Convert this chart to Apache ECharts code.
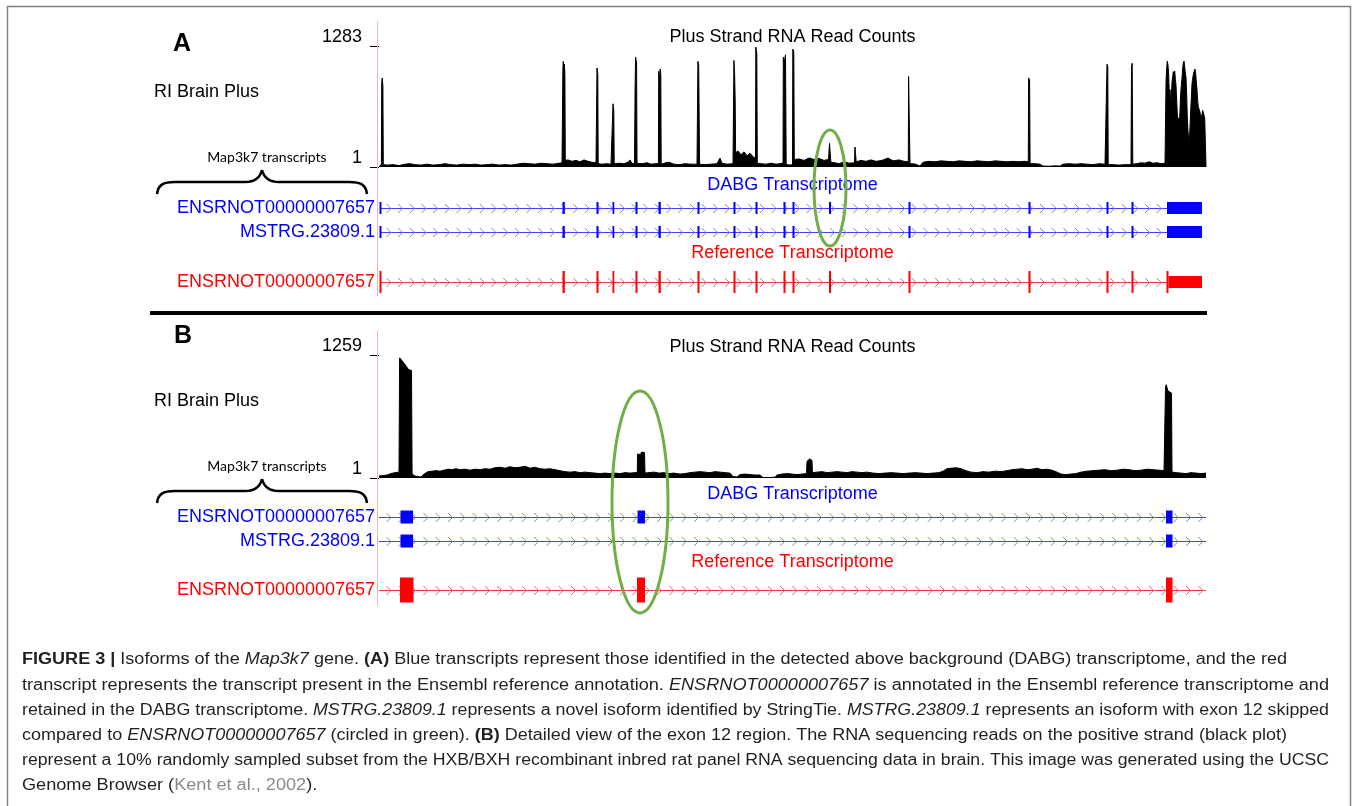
<!DOCTYPE html>
<html>
<head>
<meta charset="utf-8">
<title>Map3k7 isoforms</title>
<script src="https://cdn.jsdelivr.net/npm/echarts@6.0.0/dist/echarts.min.js"></script>
<style>
  html, body { margin: 0; padding: 0; background: #fff; }
  #fig { width: 1354px; height: 806px; }
</style>
</head>
<body>
<div id="fig"></div>
<script>
const FONT = '"Liberation Sans", Arial, Helvetica, sans-serif';

// read counts, position is offset inside the browser window (0..827)
const trackMaxA = 1283;
const trackMaxB = 1259;

const covA = [
  [0,0],[0.5,20],[2.4,30],[2.7,880],[3.2,943],[3.9,860],[4.3,25],
  [8,20],[14,25],[20,15],[26,30],[31,35],[36,25],[42,20],[48,30],[54,20],[60,25],[66,35],[72,25],[78,20],
  [84,30],[90,25],[96,30],[102,20],[108,25],[114,30],[120,20],[126,25],[132,20],[138,30],[144,40],[150,35],
  [156,30],[162,40],[168,35],[174,30],[180,40],[183,45],
  [183.6,50],[183.9,1050],[184.3,1120],[185,1000],[185.4,1090],[185.9,980],[186.3,70],
  [189,75],[193,60],[197,70],[201,55],[205,75],[209,60],[213,50],[217,45],
  [217.7,45],[218,1050],[218.8,980],[219.2,35],
  [223,30],[228,35],[232,30],
  [233.7,30],[234,670],[234.8,600],[235.2,35],
  [240,40],[245,35],[249,50],[251,75],[253,40],[255.5,35],
  [255.8,35],[256.1,850],[256.6,1165],[257.6,1100],[258,40],
  [263,35],[268,45],[272,30],[276,35],[279.4,35],
  [279.7,1015],[280.5,920],[281.2,1040],[281.8,980],[282.2,30],
  [287,45],[290,50],[295,30],[300,25],[306,35],[312,30],[318,30],
  [318.6,30],[318.9,1120],[319.7,1080],[320.2,1060],[320.6,30],
  [326,25],[332,30],[338,35],[341,95],[343,40],[348,30],[354,35],
  [354.6,40],[354.9,1130],[355.6,990],[356.2,700],[356.6,150],
  [359,170],[362,130],[365,160],[368,120],[371,145],[374,110],[376.5,90],
  [376.8,1272],[377.8,1200],[378.3,40],
  [382,35],[387,30],[392,40],[397,30],[401,35],[404,40],
  [404.3,1165],[405,1100],[406.5,1190],[407.2,30],
  [410,20],[413.5,25],
  [413.8,1250],[414.8,1220],[415.3,80],
  [420,85],[425,70],[430,95],[435,80],[440,90],[445,70],[449.5,80],
  [450.5,250],[451.5,255],[451.9,50],
  [456,45],[460,35],[465,55],[470,40],[475.5,45],
  [476,212],[476.8,200],[477.2,55],
  [482,70],[487,60],[492,75],[497,60],[503,70],[509,95],[514,65],[520,75],[525,60],[529.3,55],
  [529.6,960],[530.5,965],[531,35],
  [536,32],[541,10],[544,50],[550,60],[556,55],[562,65],[568,60],[574,55],[580,65],[586,60],[592,55],
  [598,65],[604,60],[610,55],[616,65],[622,60],[628,55],[634,60],[640,55],[646,60],[649.3,55],
  [649.6,945],[650.6,920],[651.1,35],
  [656,35],[661,30],[664,10],[670,8],[676,12],[681,10],[684,30],[690,35],[696,30],[702,35],[708,30],
  [714,25],[720,35],[726,30],[727.7,30],
  [728,1090],[728.8,1060],[729.2,25],
  [734,25],[740,20],[746,25],[752,25],
  [752.5,1060],[753.2,1100],[753.8,30],
  [758,35],[762,45],[766,40],[770,55],[774,40],[778,45],[782,35],[786,40],
  [786.5,40],[787,900],[787.7,1050],[788.3,1124],[789,1080],[789.7,980],[790.3,760],[791,820],[791.7,690],
  [792.3,720],[793,900],[793.7,960],[794.3,1010],[795,980],[795.7,1018],[796.3,940],[797,870],[797.7,700],
  [798.3,560],[799,480],[799.7,520],[800.3,435],[801,600],[801.7,780],[802.3,860],[803,940],[803.7,1050],
  [804.3,1100],[805,1124],[805.7,1060],[806.3,1000],[807,950],[807.7,760],[808.3,520],[809,380],[809.7,300],
  [810.3,265],[811,420],[811.7,600],[812.3,720],[813,880],[813.7,940],[814.3,980],[815,1010],[816,1039],
  [816.7,990],[817.3,900],[818,820],[818.7,700],[819.3,640],[820,615],[821,580],[822,500],[823,560],
  [823.7,600],[824.3,615],[825,590],[825.7,520],[826.3,300],[827,0]
];

const covB = [
  [0,20],[4,25],[8,30],[12,45],[16,55],[20,60],
  [20.3,60],[20.6,1230],[21.5,1240],[22.5,1215],[23.5,1195],[24.5,1185],[25.5,1170],[26.5,1160],[27.5,1140],
  [28.5,1125],[29.5,1110],[30.5,1100],[31.5,1095],[32.5,1100],[33.1,40],
  [36,20],[39,15],[42,10],[45,40],[49,65],[53,70],[57,75],[61,70],[65,80],[69,90],[73,85],[77,95],[81,85],
  [86,90],[91,80],[96,90],[101,85],[106,95],[111,90],[116,105],[121,110],[126,100],[131,115],[136,105],
  [141,110],[146,120],[151,100],[156,110],[161,95],[166,90],[171,95],[176,85],[181,75],[186,65],[191,60],
  [196,65],[201,55],[206,60],[211,55],[216,50],[221,45],[226,50],[231,45],[236,50],[241,45],[246,55],
  [251,50],[256,55],[258.3,55],
  [258.5,245],[260,250],[261.5,240],[262.5,265],[263.5,277],[264.5,270],[265.5,260],[266,50],
  [270,55],[275,60],[280,50],[285,55],[290,45],[295,50],[301,40],[306,45],[311,55],[316,60],[321,65],
  [326,60],[331,55],[336,65],[341,60],[346,55],[351,50],[354,15],[358,10],[361,35],[366,40],[371,35],
  [376,30],[381,30],[384,5],[390,5],[396,8],[398,30],[403,40],[408,45],[413,40],[418,35],[423,40],[427.5,45],
  [428,170],[429,190],[430.5,195],[432,190],[433,180],[433.4,55],
  [438,60],[443,65],[448,55],[453,60],[458,65],[463,60],[468,55],[473,65],[478,60],[483,55],[488,60],
  [494,50],[500,45],[506,50],[512,55],[518,50],[524,45],[530,50],[536,55],[542,50],[548,45],[554,50],
  [560,55],[564,70],[568,95],[572,100],[577,105],[582,95],[587,75],[592,60],[598,55],[604,65],[610,60],
  [616,70],[622,65],[628,75],[633,85],[638,90],[643,95],[648,85],[653,90],[658,100],[663,85],[668,90],
  [673,80],[678,60],[682,40],[687,35],[692,40],[697,45],[702,60],[708,70],[714,75],[720,80],[726,85],
  [732,75],[738,80],[744,90],[750,85],[756,75],[762,80],[768,90],[774,85],[780,80],[785,75],[786.3,70],
  [786.5,930],[787.2,955],[788,945],[789,890],[790,885],[791,880],[792.5,870],[793,60],
  [797,55],[802,50],[807,45],[812,55],[817,50],[822,45],[827,50]
];

// transcripts: [start, end, fullHeight]
const rowLabels = ['ENSRNOT00000007657', 'MSTRG.23809.1', 'ENSRNOT00000007657'];
const rowColors = ['#0000ff', '#0000ff', '#ff0000'];
const lineColors = ['#4040ff', '#4040ff', '#ff3030'];

const txSpanA = [1, 788];
const txSpanB = [0, 827];

const exonsA_ens = [[0.5,2.5,1],[183.5,185.8,1],[217.5,219.5,1],[233.5,235.3,1],[256.5,258.5,1],[279.5,281.8,1],
  [318.5,320.5,1],[354.5,356.5,1],[376.5,378.5,1],[404.5,406.5,1],[413.5,415.5,1],[450,452,1],
  [529.5,531.5,1],[649.5,651.5,1],[727.5,729.5,1],[752.5,754.5,1],[788,823,1]];
const exonsA_mstrg = [[0.5,2.5,1],[183.5,185.8,1],[217.5,219.5,1],[233.5,235.3,1],[256.5,258.5,1],[279.5,281.8,1],
  [318.5,320.5,1],[354.5,356.5,1],[376.5,378.5,1],[404.5,406.5,1],[413.5,415.5,1],
  [529.5,531.5,1],[649.5,651.5,1],[727.5,729.5,1],[752.5,754.5,1],[788,823,1]];
const exonsA_ref = [[0.5,2.5,1],[183.5,185.8,1],[217.5,219.5,1],[233.5,235.3,1],[256.5,258.5,1],[279.5,281.8,1],
  [318.5,320.5,1],[354.5,356.5,1],[376.5,378.5,1],[404.5,406.5,1],[413.5,415.5,1],[450,452,1],
  [529.5,531.5,1],[649.5,651.5,1],[727.5,729.5,1],[752.5,754.5,1],[787.5,789.5,1],[789.5,823,0]];

const exonsB_ens = [[21.5,34,1],[258.5,266,1],[787,793.5,1]];
const exonsB_mstrg = [[21.5,34,1],[787,793.5,1]];
const exonsB_ref = [[21,34.5,1],[258,266,1],[787,793.5,1]];

const skippedExonA = 451;
const skippedExonB = 262;

const captionLines = [
  '{b|FIGURE 3 |} Isoforms of the {i|Map3k7} gene. {b|(A)} Blue transcripts represent those identified in the detected above background (DABG) transcriptome, and the red',
  'transcript represents the transcript present in the Ensembl reference annotation. {i|ENSRNOT00000007657} is annotated in the Ensembl reference transcriptome and',
  'retained in the DABG transcriptome. {i|MSTRG.23809.1} represents a novel isoform identified by StringTie. {i|MSTRG.23809.1} represents an isoform with exon 12 skipped',
  'compared to {i|ENSRNOT00000007657} (circled in green). {b|(B)} Detailed view of the exon 12 region. The RNA sequencing reads on the positive strand (black plot)',
  'represent a 10% randomly sampled subset from the HXB/BXH recombinant inbred rat panel RNA sequencing data in brain. This image was generated using the UCSC',
  'Genome Browser ({g|Kent et al., 2002}).'
];
// right edge of each caption line in the figure (0 = natural width)
const captionEnds = [1287, 1329, 1329, 1287, 1329, 0];

const PLOT_LEFT = 379, PLOT_W = 827;
const rowTopsA = [198, 222, 272];
const rowTopsB = [507, 531, 580];

function intronRenderer(color, step, phase) {
  return function (params, api) {
    const a = api.coord([api.value(0), api.value(2)]);
    const b = api.coord([api.value(1), api.value(2)]);
    const y = Math.round(a[1]) + 0.5;
    const kids = [{ type: 'line', shape: { x1: a[0], y1: y, x2: b[0], y2: y }, style: { stroke: color, lineWidth: 1 } }];
    for (let x = a[0] + phase; x < b[0] - 2; x += step) {
      kids.push({ type: 'polyline', shape: { points: [[x - 2.5, y - 4.5], [x + 2, y], [x - 2.5, y + 4.5]] },
        style: { stroke: '#8c8c8c', fill: null, lineWidth: 1 } });
    }
    return { type: 'group', children: kids };
  };
}

function exonRenderer(color, tallH, lowH) {
  return function (params, api) {
    const a = api.coord([api.value(0), api.value(2)]);
    const b = api.coord([api.value(1), api.value(2)]);
    const h = api.value(3) ? tallH : lowH;
    return { type: 'rect', shape: { x: a[0], y: a[1] - h / 2, width: Math.max(b[0] - a[0], 1.5), height: h },
      style: { fill: color } };
  };
}

function countAxis(gridIndex, max) {
  return {
    type: 'value', gridIndex: gridIndex, min: 0, max: max, offset: 3,
    axisLine: { show: false }, splitLine: { show: false },
    axisTick: { show: true, customValues: [1, max], length: 9, lineStyle: { color: '#000', width: 1 } },
    axisLabel: { show: true, customValues: [1, max], margin: 14, verticalAlign: 'bottom',
      color: '#000', fontSize: 18, fontFamily: FONT, formatter: v => String(v) }
  };
}

function rowAxis(gridIndex, k) {
  return {
    type: 'category', gridIndex: gridIndex, data: [rowLabels[k]],
    axisLine: { show: false }, axisTick: { show: false }, splitLine: { show: false },
    axisLabel: { color: rowColors[k], fontSize: 18, fontFamily: FONT, margin: 4 }
  };
}

const grids = [], xAxes = [], yAxes = [], series = [];

function addCoverage(top, height, max, data) {
  const g = grids.length;
  grids.push({ left: PLOT_LEFT, top: top, width: PLOT_W, height: height });
  xAxes.push({ type: 'value', gridIndex: g, min: 0, max: 827, show: false });
  yAxes.push(countAxis(g, max));
  series.push({ type: 'line', xAxisIndex: g, yAxisIndex: g, data: data, symbol: 'none', showSymbol: false,
    lineStyle: { color: '#000', width: 1 }, areaStyle: { color: '#000', opacity: 1 }, silent: true });
}

function addRow(top, k, span, exons, tallH, lowH, step, phase) {
  const g = grids.length;
  grids.push({ left: PLOT_LEFT, top: top, width: PLOT_W, height: 20 });
  xAxes.push({ type: 'value', gridIndex: g, min: 0, max: 827, show: false });
  yAxes.push(rowAxis(g, k));
  series.push({ type: 'custom', xAxisIndex: g, yAxisIndex: g, z: 2, silent: true, clip: false,
    encode: { x: [0, 1], y: 2 }, data: [[span[0], span[1], 0]],
    renderItem: intronRenderer(lineColors[k], step, phase) });
  series.push({ type: 'custom', xAxisIndex: g, yAxisIndex: g, z: 3, silent: true, clip: false,
    encode: { x: [0, 1], y: 2 }, data: exons.map(d => [d[0], d[1], 0, d[2]]),
    renderItem: exonRenderer(rowColors[k], tallH, lowH) });
}

addCoverage(46, 121, trackMaxA, covA);
addRow(rowTopsA[0], 0, txSpanA, exonsA_ens, 12, 12, 11.67, 9);
addRow(rowTopsA[1], 1, txSpanA, exonsA_mstrg, 12, 12, 11.67, 9);
addRow(rowTopsA[2], 2, txSpanA, exonsA_ref, 22, 12, 11.67, 9);
addCoverage(355, 123, trackMaxB, covB);
addRow(rowTopsB[0], 0, txSpanB, exonsB_ens, 13, 13, 12.3, 10);
addRow(rowTopsB[1], 1, txSpanB, exonsB_mstrg, 13, 13, 12.3, 10);
addRow(rowTopsB[2], 2, txSpanB, exonsB_ref, 25, 13, 12.3, 10);

const chart = echarts.init(document.getElementById('fig'), null, { renderer: 'canvas' });
chart.setOption({
  animation: false,
  backgroundColor: '#fff',
  grid: grids, xAxis: xAxes, yAxis: yAxes, series: series
});

// caption, each line squeezed to the width it has in the figure
const CAP = 16;
const CAP_X = 22;
const capFonts = {
  n: CAP + 'px ' + FONT, b: 'bold ' + CAP + 'px ' + FONT,
  i: 'italic ' + CAP + 'px ' + FONT, g: CAP + 'px ' + FONT
};
function lineWidth(line) {
  const ctx = document.createElement('canvas').getContext('2d');
  const re = /\{(\w+)\|([^}]*)\}/g;
  let last = 0, m, w = 0;
  while ((m = re.exec(line))) {
    ctx.font = capFonts.n; w += ctx.measureText(line.slice(last, m.index)).width;
    ctx.font = capFonts[m[1]]; w += ctx.measureText(m[2]).width;
    last = re.lastIndex;
  }
  ctx.font = capFonts.n; w += ctx.measureText(line.slice(last)).width;
  return w;
}
const baseScale = (captionEnds[1] - CAP_X) / lineWidth(captionLines[1]);
const capRich = {
  b: { fontFamily: FONT, fontSize: CAP, fontWeight: 'bold', fill: '#231f20' },
  i: { fontFamily: FONT, fontSize: CAP, fontStyle: 'italic', fill: '#231f20' },
  g: { fontFamily: FONT, fontSize: CAP, fill: '#8a8a8a' }
};

function label(text, x, y, opts) {
  opts = opts || {};
  return { type: 'text', x: x, y: y, z: 10, silent: true,
    style: { text: text, font: opts.font || '18px ' + FONT, fill: opts.color || '#000',
      align: opts.align || 'left', textAlign: opts.align || 'left',
      verticalAlign: 'middle', textVerticalAlign: 'middle' } };
}

// curly brace made from bezier pieces, dy moves it to panel B
function brace(dy) {
  const st = { stroke: '#000', lineWidth: 2.5, fill: null };
  const bz = (x1, y1, cx1, cy1, cx2, cy2, x2, y2) => ({ type: 'bezierCurve', silent: true,
    shape: { x1: x1, y1: y1 + dy, cpx1: cx1, cpy1: cy1 + dy, cpx2: cx2, cpy2: cy2 + dy, x2: x2, y2: y2 + dy }, style: st });
  const ln = (x1, y1, x2, y2) => ({ type: 'line', silent: true,
    shape: { x1: x1, y1: y1 + dy, x2: x2, y2: y2 + dy }, style: st });
  return { type: 'group', z: 5, children: [
    bz(157, 194, 158, 185, 163, 182, 175, 182),
    ln(175, 182, 245, 182),
    bz(245, 182, 255, 182, 260, 178, 262, 170),
    bz(262, 170, 264, 178, 269, 182, 279, 182),
    ln(279, 182, 349, 182),
    bz(349, 182, 361, 182, 366, 185, 367, 194)
  ] };
}

const exA = chart.convertToPixel({ xAxisIndex: 0 }, skippedExonA);
const exB = chart.convertToPixel({ xAxisIndex: 4 }, skippedExonB);

const graphic = [
  { type: 'rect', z: 1, silent: true, shape: { x: 7.5, y: 6.5, width: 1343, height: 805 },
    style: { stroke: '#808080', lineWidth: 1.5, fill: null } },
  { type: 'line', z: 1, silent: true, shape: { x1: 377.5, y1: 22, x2: 377.5, y2: 296 }, style: { stroke: '#f3b0b0', lineWidth: 1 } },
  { type: 'line', z: 1, silent: true, shape: { x1: 377.5, y1: 331, x2: 377.5, y2: 606 }, style: { stroke: '#f3b0b0', lineWidth: 1 } },
  { type: 'line', z: 1, silent: true, shape: { x1: 150, y1: 313, x2: 1207, y2: 313 }, style: { stroke: '#000', lineWidth: 4 } },
  brace(0),
  brace(309),
  label('A', 173, 44, { font: 'bold 25px ' + FONT }),
  label('B', 174, 336, { font: 'bold 25px ' + FONT }),
  label('RI Brain Plus', 154, 92),
  label('RI Brain Plus', 154, 401),
  label('Map3k7 transcripts', 267, 157, { font: '14px Lato, "Open Sans", sans-serif', align: 'center' }),
  label('Map3k7 transcripts', 267, 466, { font: '14px Lato, "Open Sans", sans-serif', align: 'center' }),
  label('Plus Strand RNA Read Counts', 792.5, 37, { align: 'center' }),
  label('Plus Strand RNA Read Counts', 792.5, 347, { align: 'center' }),
  label('DABG Transcriptome', 792.5, 185, { align: 'center', color: '#0000ff' }),
  label('DABG Transcriptome', 792.5, 494, { align: 'center', color: '#0000ff' }),
  label('Reference Transcriptome', 792.5, 253, { align: 'center', color: '#ff0000' }),
  label('Reference Transcriptome', 792.5, 562, { align: 'center', color: '#ff0000' }),
  { type: 'ellipse', z: 20, silent: true, shape: { cx: exA, cy: 188, rx: 16, ry: 58 },
    style: { stroke: '#72ad48', lineWidth: 3, fill: null } },
  { type: 'ellipse', z: 20, silent: true, shape: { cx: exB - 1, cy: 502, rx: 28, ry: 111 },
    style: { stroke: '#72ad48', lineWidth: 3, fill: null } }
];

const capY = [660, 685.5, 711, 736, 761, 786];
captionLines.forEach(function (line, i) {
  const s = captionEnds[i] ? (captionEnds[i] - CAP_X) / lineWidth(line) : baseScale;
  graphic.push({ type: 'text', x: CAP_X, y: capY[i], scaleX: s, z: 10, silent: true,
    style: { text: line, font: capFonts.n, fill: '#231f20', rich: capRich,
      align: 'left', textAlign: 'left', verticalAlign: 'middle', textVerticalAlign: 'middle' } });
});

chart.setOption({ graphic: graphic });
</script>
</body>
</html>
